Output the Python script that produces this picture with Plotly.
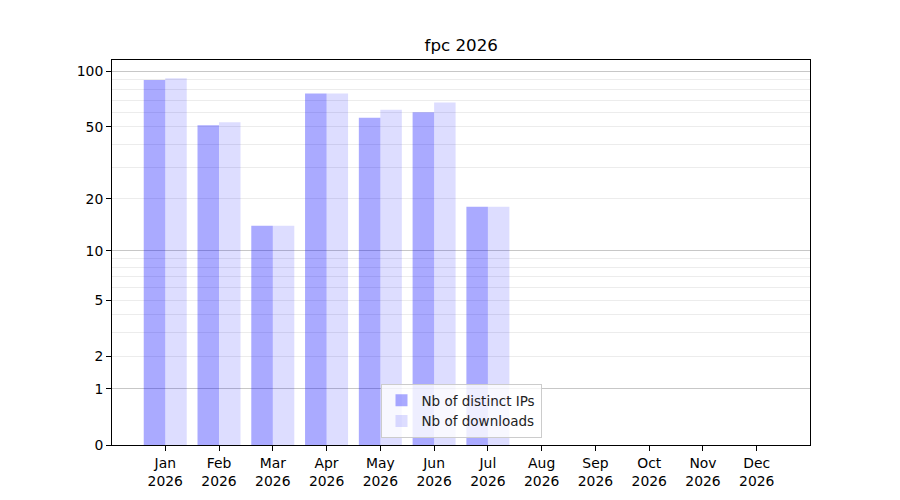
import numpy as np
import plotly.graph_objects as go

months = ["Jan", "Feb", "Mar", "Apr", "May", "Jun", "Jul", "Aug", "Sep", "Oct", "Nov", "Dec"]
year = "2026"
distinct_ips = [90, 51, 14, 76, 56, 60, 18, 0, 0, 0, 0, 0]
downloads = [92, 53, 14, 76, 62, 68, 18, 0, 0, 0, 0, 0]
y_labels = [0, 1, 2, 5, 10, 20, 50, 100]
major_grid = [1, 10, 100]
minor_grid = [2, 3, 4, 5, 6, 7, 8, 9, 20, 30, 40, 50, 60, 70, 80, 90]
y_max = 115.5

x = np.arange(len(months))
ticktext = [f"{m}<br>{year}" for m in months]

def sl(v):
    # log(1 + v) scale: shift values by one on a log axis
    return [val + 1 for val in v]

FONT = "DejaVu Sans"
fs = 13.9

fig = go.Figure()
fig.add_trace(go.Bar(
    x=x, y=sl(distinct_ips), offset=-0.4, width=0.4,
    marker=dict(color="rgba(0,0,255,0.333)", line=dict(width=0)),
    name="Nb of distinct IPs",
))
fig.add_trace(go.Bar(
    x=x, y=sl(downloads), offset=0.0, width=0.4,
    marker=dict(color="rgba(0,0,255,0.133)", line=dict(width=0)),
    name="Nb of downloads",
))
# carrier trace for the overlay axis that draws the grid lines
fig.add_trace(go.Scatter(x=[None], y=[None], yaxis="y2", showlegend=False,
                         hoverinfo="skip", mode="markers"))

yrange = [0, float(np.log10(y_max + 1))]

fig.update_layout(
    width=900, height=500,
    margin=dict(l=112, r=90, t=60, b=55),
    paper_bgcolor="white", plot_bgcolor="white",
    barmode="overlay",
    font=dict(family=FONT, size=fs, color="black"),
    title=dict(text="fpc 2026", x=0.5125, xanchor="center", y=1 - 45 / 500,
               yanchor="middle", font=dict(family=FONT, size=16.7, color="black")),
    showlegend=True,
    legend=dict(x=0.5, xanchor="center", y=0.018, yanchor="bottom",
                bgcolor="rgba(255,255,255,0.8)", bordercolor="#cccccc", borderwidth=1,
                font=dict(family=FONT, size=13.5, color="#222222"),
                tracegroupgap=0),
    xaxis=dict(
        range=[-0.99, 11.99], tickmode="array", tickvals=x, ticktext=ticktext,
        showgrid=False, zeroline=False, showline=True, mirror=True,
        linecolor="black", linewidth=1.1, ticks="outside", ticklen=4.9,
        tickwidth=1.1, tickcolor="black", tickfont=dict(family=FONT, size=fs, color="black"),
    ),
    yaxis=dict(
        type="log", range=yrange, tickmode="array",
        tickvals=sl(y_labels), ticktext=[str(v) for v in y_labels],
        showgrid=False, zeroline=False, showline=True, mirror=True,
        linecolor="black", linewidth=1.1, ticks="outside", ticklen=4.9,
        tickwidth=1.1, tickcolor="black", tickfont=dict(family=FONT, size=fs, color="black"),
        layer="above traces",
    ),
    yaxis2=dict(
        type="log", range=yrange, overlaying="y", anchor="x", side="left",
        tickmode="array", tickvals=sl(major_grid), showticklabels=False, ticks="",
        showgrid=True, gridcolor="rgba(0,0,0,0.22)", gridwidth=1,
        minor=dict(tickmode="array", tickvals=sl(minor_grid), showgrid=True,
                   gridcolor="rgba(0,0,0,0.075)", gridwidth=1, ticks=""),
        showline=False, zeroline=False,
    ),
)

fig.write_html("out.html", config={"displayModeBar": False},
               post_script="document.body.style.margin='0';")
